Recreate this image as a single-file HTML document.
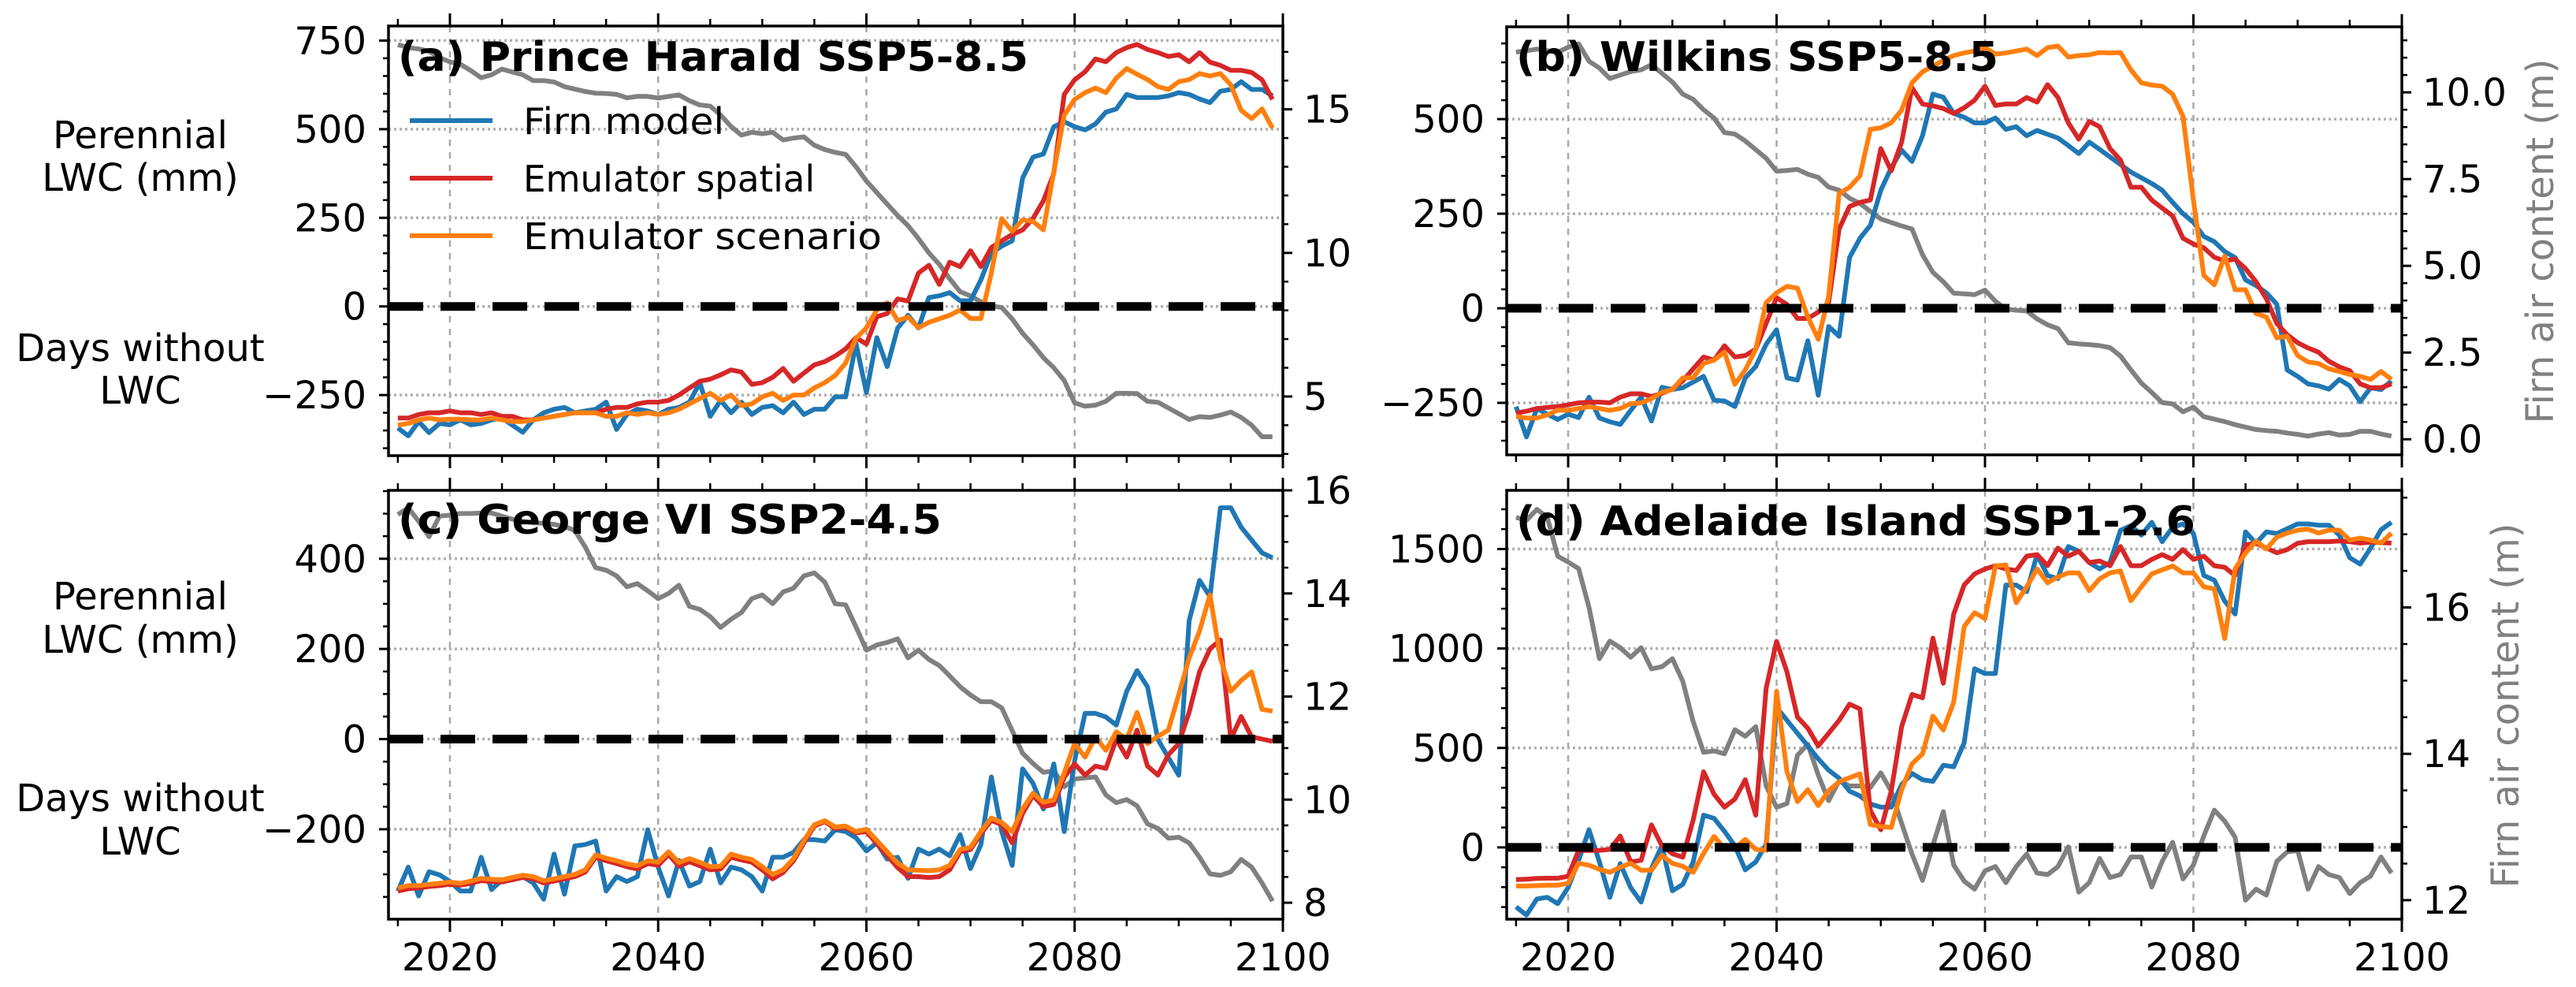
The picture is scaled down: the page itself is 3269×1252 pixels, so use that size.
<!DOCTYPE html>
<html><head><meta charset="utf-8">
<style>
html,body{margin:0;padding:0;background:#fff;}
svg{display:block;font-family:"DejaVu Sans","Liberation Sans",sans-serif;}
</style></head>
<body>
<svg id="fig" xmlns="http://www.w3.org/2000/svg" width="3269" height="1252" viewBox="0 0 3269 1252">
<rect x="0" y="0" width="3269" height="1252" fill="#fff"/>
</svg>
<script>
const startYear = 2015;
// Panel (a) Prince Harald SSP5-8.5
const aFirn = [-343,-365,-325,-356,-330,-334,-320,-334,-330,-320,-315,-335,-355,-320,-300,-290,-285,-300,-295,-290,-270,-347,-305,-290,-295,-305,-290,-285,-270,-215,-310,-265,-300,-270,-305,-285,-280,-300,-270,-305,-290,-290,-255,-255,-105,-243,-88,-170,-61,-25,-61,25,30,39,16,16,75,150,170,185,362,421,430,507,521,507,498,515,548,557,598,589,589,589,594,603,598,585,575,607,612,634,612,612,594];
const aSpatial = [-315,-315,-305,-300,-300,-295,-300,-300,-305,-300,-310,-310,-320,-320,-315,-310,-305,-300,-300,-300,-290,-285,-285,-275,-270,-270,-265,-250,-230,-211,-205,-193,-179,-185,-220,-215,-200,-175,-211,-188,-165,-156,-140,-120,-88,-106,-29,-20,21,15,94,116,62,125,112,157,112,166,185,203,216,248,298,375,598,639,662,698,690,716,730,739,725,716,705,710,690,716,689,680,666,666,660,639,584];
const aScenario = [-335,-330,-320,-315,-320,-318,-318,-320,-320,-315,-320,-325,-325,-320,-315,-310,-305,-300,-300,-300,-310,-310,-300,-305,-300,-305,-300,-290,-275,-260,-245,-265,-250,-280,-275,-255,-245,-265,-250,-250,-230,-215,-195,-160,-90,-60,-10,10,-40,-30,-60,-45,-35,-25,-10,-34,-34,94,248,212,244,240,216,380,539,584,603,616,603,644,671,655,640,620,612,634,640,657,650,657,625,553,530,557,503];
const aFAC = [17.25,17.15,17.1,17.02,16.8,16.65,16.57,16.35,16.1,16.2,16.4,16.3,16.2,16.0,16.0,15.95,15.79,15.7,15.62,15.56,15.55,15.52,15.4,15.45,15.45,15.39,15.45,15.5,15.3,15.15,15.11,14.8,14.4,14.1,14.2,14.15,14.2,13.93,14.0,14.04,13.75,13.6,13.5,13.43,13.0,12.5,12.1,11.7,11.3,10.95,10.5,10.0,9.6,9.1,8.65,8.5,8.3,8.15,8.1,7.7,7.2,6.8,6.35,6.0,5.56,4.78,4.66,4.7,4.83,5.11,5.11,5.1,4.83,4.8,4.6,4.4,4.2,4.3,4.27,4.35,4.46,4.27,4.0,3.6,3.6];
// Panel (b) Wilkins SSP5-8.5
const bFirn = [-260,-340,-265,-280,-294,-280,-289,-235,-290,-300,-307,-270,-235,-298,-209,-215,-210,-195,-180,-243,-245,-260,-184,-154,-95,-57,-184,-190,-86,-230,-48,-74,134,185,219,312,371,418,388,456,566,558,515,505,490,490,503,473,480,456,470,460,450,430,409,439,420,400,380,360,345,330,312,280,250,227,190,176,150,134,75,60,41,11,-163,-180,-200,-205,-214,-188,-205,-247,-210,-215,-192];
const bSpatial = [-277,-272,-265,-262,-260,-255,-250,-248,-248,-250,-235,-226,-226,-233,-225,-213,-192,-160,-129,-137,-99,-129,-125,-108,-40,28,10,-27,-27,-10,15,210,269,280,286,422,363,439,583,540,535,528,515,530,550,587,536,540,540,557,545,591,557,490,447,494,480,422,392,320,320,286,265,244,185,170,160,135,125,130,105,70,25,-40,-70,-91,-105,-116,-140,-155,-165,-200,-210,-210,-200];
const bScenario = [-286,-290,-290,-282,-269,-270,-265,-260,-265,-270,-265,-252,-250,-239,-222,-215,-184,-184,-146,-137,-116,-201,-163,-108,15,41,58,53,-23,-82,32,303,320,350,473,477,490,524,596,625,640,655,668,675,680,689,672,675,680,685,668,689,693,664,668,670,676,675,676,630,596,590,587,566,507,286,87,62,138,49,49,-14,-23,-78,-74,-125,-142,-146,-160,-167,-175,-180,-188,-167,-188];
const bFAC = [11.16,11.2,11.25,11.2,11.16,11.3,11.4,10.9,10.7,10.4,10.5,10.6,10.65,10.8,10.55,10.3,9.95,9.8,9.5,9.26,8.84,8.8,8.6,8.35,8.1,7.73,7.75,7.78,7.64,7.55,7.27,7.18,6.95,6.8,6.57,6.35,6.25,6.15,6.06,5.32,4.81,4.54,4.21,4.19,4.17,4.3,3.98,3.75,3.72,3.7,3.47,3.3,3.19,2.78,2.75,2.73,2.7,2.64,2.4,2.0,1.62,1.35,1.06,1.02,0.79,0.93,0.65,0.58,0.51,0.42,0.35,0.28,0.25,0.23,0.18,0.14,0.09,0.15,0.19,0.12,0.14,0.23,0.23,0.15,0.09];
// Panel (c) George VI SSP2-4.5
const cFirn = [-337,-284,-348,-294,-301,-316,-337,-337,-262,-334,-312,-312,-305,-319,-355,-255,-344,-237,-234,-226,-337,-305,-316,-305,-201,-284,-348,-269,-326,-316,-244,-319,-284,-290,-305,-337,-262,-262,-251,-223,-223,-226,-201,-205,-219,-248,-230,-266,-262,-309,-244,-255,-244,-259,-212,-287,-234,-84,-205,-280,-66,-98,-155,-55,-205,-48,57,57,49,31,106,152,116,-1,-41,-80,263,352,316,513,513,470,441,413,402];
const cSpatial = [-337,-332,-330,-327,-325,-322,-324,-320,-314,-316,-317,-312,-307,-310,-319,-315,-310,-305,-295,-262,-270,-276,-283,-288,-276,-280,-256,-282,-272,-281,-290,-288,-262,-268,-273,-290,-310,-296,-270,-230,-193,-183,-198,-196,-208,-205,-232,-258,-285,-305,-305,-307,-305,-290,-250,-245,-210,-180,-190,-230,-165,-125,-150,-145,-85,-55,-80,-60,-65,0,-40,20,-60,-80,-35,-10,60,150,200,220,0,50,5,0,-5];
const cScenario = [-330,-325,-325,-322,-320,-317,-320,-315,-309,-311,-312,-307,-302,-305,-314,-310,-305,-300,-290,-257,-264,-270,-277,-281,-270,-273,-250,-274,-265,-273,-283,-282,-255,-262,-267,-283,-300,-290,-265,-225,-190,-181,-195,-193,-205,-200,-225,-250,-275,-290,-291,-292,-290,-280,-245,-240,-205,-175,-185,-205,-155,-120,-140,-135,-75,-10,-40,5,-25,16,0,59,-10,6,20,99,180,240,320,180,106,130,149,66,62];
const cFAC = [15.53,15.66,15.4,15.1,15.5,15.52,15.55,15.55,15.56,15.56,15.5,15.44,15.4,15.37,15.36,15.34,15.3,15.22,14.9,14.5,14.45,14.34,14.13,14.19,14.05,13.9,14.0,14.16,13.75,13.69,13.55,13.34,13.5,13.63,13.9,13.97,13.8,14.03,14.1,14.34,14.4,14.22,13.8,13.78,13.35,12.9,13.0,13.05,13.12,12.75,12.9,12.72,12.6,12.4,12.19,12.03,11.9,11.9,11.78,11.34,10.9,10.7,10.53,10.56,10.25,10.4,10.42,10.44,10.09,9.94,10.0,9.88,9.53,9.44,9.25,9.27,9.16,8.88,8.56,8.53,8.6,8.84,8.69,8.38,8.03];
// Panel (d) Adelaide Island SSP1-2.6
const dFirn = [-299,-340,-259,-251,-283,-202,-65,89,-73,-251,-81,-202,-275,-105,8,-218,-186,-73,162,146,81,8,-113,-73,16,704,639,574,510,445,388,348,283,259,218,202,202,316,372,340,332,413,405,526,898,874,874,1319,1319,1286,1472,1367,1351,1513,1489,1432,1400,1432,1594,1618,1570,1634,1537,1610,1626,1578,1367,1343,1238,1173,1586,1529,1586,1578,1602,1626,1626,1620,1620,1570,1456,1424,1505,1597,1634];
const dSpatial = [-162,-160,-156,-155,-155,-145,-15,-15,-15,-10,57,-73,-65,113,8,-32,-49,138,380,267,202,243,340,162,801,1036,882,655,599,510,574,639,720,696,186,89,283,607,769,752,1052,825,1173,1319,1375,1400,1416,1400,1392,1464,1472,1416,1505,1464,1489,1432,1440,1416,1513,1416,1416,1448,1472,1448,1497,1448,1464,1416,1408,1367,1521,1529,1505,1481,1497,1529,1537,1537,1537,1540,1537,1530,1535,1532,1530];
const dScenario = [-194,-194,-192,-190,-190,-180,-80,-90,-110,-125,-100,-80,-115,-115,-40,-80,-95,-125,-30,55,-5,-5,40,-10,-15,785,380,230,290,210,285,330,350,370,115,105,100,290,420,470,660,590,730,1110,1180,1150,1415,1420,1230,1310,1400,1330,1360,1380,1380,1290,1350,1380,1390,1240,1310,1375,1395,1415,1380,1380,1310,1300,1050,1400,1480,1540,1500,1560,1580,1595,1600,1580,1595,1595,1545,1555,1545,1530,1580];
const dFAC = [17.23,17.19,17.34,17.23,16.7,16.62,16.53,16.0,15.3,15.54,15.45,15.32,15.45,15.16,15.19,15.3,14.99,14.44,14.02,14.04,14.0,14.33,14.24,14.37,13.56,13.27,13.32,13.98,14.13,13.71,13.36,13.63,13.56,13.56,13.54,13.74,13.49,13.05,12.63,12.27,12.75,13.21,12.48,12.26,12.15,12.4,12.46,12.24,12.46,12.63,12.37,12.35,12.46,12.73,12.11,12.24,12.57,12.31,12.35,12.59,12.59,12.18,12.53,12.79,12.29,12.48,12.88,13.23,13.08,12.86,12.0,12.15,12.07,12.53,12.66,12.68,12.15,12.46,12.35,12.31,12.09,12.24,12.33,12.59,12.37];
// axis tick values
const xTicks = [2020,2040,2060,2080,2100];
const aLeftTicks = [-250,0,250,500,750];
const aRightTicks = [5,10,15];
const bLeftTicks = [-250,0,250,500];
const bRightTicks = [0.0,2.5,5.0,7.5,10.0];
const cLeftTicks = [-200,0,200,400];
const cRightTicks = [8,10,12,14,16];
const dLeftTicks = [0,500,1000,1500];
const dRightTicks = [12,14,16];
const legendLabels = ["Firn model","Emulator spatial","Emulator scenario"];

const NS = "http://www.w3.org/2000/svg";
const fig = document.getElementById("fig");
const COLORS = {firn:"#1f77b4", spatial:"#d62728", scenario:"#ff7f0e", fac:"#808080"};
function mk(tag, attrs, parent){
  const e = document.createElementNS(NS, tag);
  for (const k in attrs) e.setAttribute(k, attrs[k]);
  (parent||fig).appendChild(e);
  return e;
}
const XMIN = 2014.1, XMAX = 2100;

function drawPanel(p){
  const g = mk("g", {});
  
  
  const L=p.L, R=p.R, T=p.T, B=p.B;
  const sx = v => L + (v - XMIN)/(XMAX - XMIN)*(R - L);
  const sy = v => B - (v - p.ylim[0])/(p.ylim[1]-p.ylim[0])*(B - T);
  const sy2 = v => B - (v - p.y2lim[0])/(p.y2lim[1]-p.y2lim[0])*(B - T);
  xTicks.forEach(t=>{
    if (t>=2100) return;
    const ln = mk("line",{x1:sx(t),x2:sx(t),y1:T,y2:B,stroke:"#a8a8a8","stroke-width":2.5,"stroke-dasharray":"8 8"},g);
    
    
  });
  p.leftTicks.forEach(t=>{
    const ln = mk("line",{x1:L,x2:R,y1:sy(t),y2:sy(t),stroke:"#b0b0b0","stroke-width":3.5,"stroke-dasharray":"3 4"},g);
    
    
  });
  const clipId = "clip"+p.id;
  const cp = mk("clipPath",{id:clipId},g);
  mk("rect",{x:L,y:T,width:R-L,height:B-T},cp);
  const series = [[p.fac,COLORS.fac,sy2,"firn-air-content-line"],[p.firn,COLORS.firn,sy,"firn-model-line"],[p.spatial,COLORS.spatial,sy,"emulator-spatial-line"],[p.scenario,COLORS.scenario,sy,"emulator-scenario-line"]];
  series.forEach(s=>{
    const pts = s[0].map((v,i)=>sx(startYear+i).toFixed(1)+","+s[2](v).toFixed(1)).join(" ");
    const pl = mk("polyline",{points:pts,fill:"none",stroke:s[1],"stroke-width":6,"stroke-linejoin":"round","clip-path":"url(#"+clipId+")"},g);
    
    
  });
  const zl = mk("line",{x1:L,x2:R,y1:sy(0),y2:sy(0),stroke:"#000","stroke-width":11,"stroke-dasharray":"44 22"},g);
  
  
  const fr = mk("rect",{x:L,y:T,width:R-L,height:B-T,fill:"none",stroke:"#000","stroke-width":3.5},g);
  
  
  for (let yr=2015; yr<=2100; yr+=5){
    const major = xTicks.includes(yr);
    const len = major?16:9;
    [[T,-1],[B,1]].forEach(([yy,d])=>{
      const tk = mk("line",{x1:sx(yr),x2:sx(yr),y1:yy,y2:yy+d*len,stroke:"#000","stroke-width":major?3:2.5},g);
      
      
    });
    if (major && p.xlabels){
      const tx = mk("text",{x:sx(yr),y:1231,"text-anchor":"middle","font-size":48,fill:"#000"},g);
      tx.textContent = yr;
      
      
    }
  }
  for (let v=Math.ceil(p.ylim[0]/p.leftMinor)*p.leftMinor; v<=p.ylim[1]; v+=p.leftMinor){
    const major = p.leftTicks.includes(v);
    const tk = mk("line",{x1:L,x2:L-(major?12:7),y1:sy(v),y2:sy(v),stroke:"#000","stroke-width":major?3:2.5},g);
    
    
  }
  p.leftTicks.forEach(v=>{
    const tx = mk("text",{x:L-28,y:sy(v)+17,"text-anchor":"end","font-size":48,fill:"#000"},g);
    tx.textContent = v<0 ? "\u2212"+Math.abs(v) : String(v);
    
    
  });
  for (let v=Math.ceil(p.y2lim[0]/p.rightMinor-1e-9)*p.rightMinor; v<=p.y2lim[1]+1e-9; v+=p.rightMinor){
    const vv = Math.round(v*100)/100;
    const major = p.rightTicks.some(t=>Math.abs(t-vv)<1e-6);
    const tk = mk("line",{x1:R,x2:R+(major?12:7),y1:sy2(vv),y2:sy2(vv),stroke:"#000","stroke-width":major?3:2.5},g);
    
    
  }
  p.rightTicks.forEach(v=>{
    const tx = mk("text",{x:R+26,y:sy2(v)+17,"text-anchor":"start","font-size":48,fill:"#000"},g);
    tx.textContent = p.rightDec ? v.toFixed(1) : String(v);
    
    
  });
  const tt = mk("text",{x:L+12,y:p.titleY,"font-size":52,"font-weight":"bold",fill:"#000",textLength:p.titleW,lengthAdjust:"spacingAndGlyphs"},g);
  tt.textContent = p.title;
  
  
  if (p.leftLabels){
    const lines = [["Perennial",p.lab[0]],["LWC (mm)",p.lab[1]],["Days without",p.lab[2]],["LWC",p.lab[3]]];
    lines.forEach(([s,yy])=>{
      const tx = mk("text",{x:178,y:yy,"text-anchor":"middle","font-size":48,fill:"#000"},g);
      tx.textContent = s;
      
      
    });
  }
  if (p.rightLabel){
    const tx = mk("text",{x:0,y:0,"text-anchor":"middle","font-size":48,fill:"#808080",transform:"translate("+p.rightLabel[0]+","+p.rightLabel[1]+") rotate(-90)"},g);
    tx.textContent = "Firn air content (m)";
    
    
  }
}

drawPanel({id:"a",L:493,R:1628,T:33,B:578,ylim:[-421,791],y2lim:[2.94,17.9],leftTicks:aLeftTicks,leftMinor:50,rightTicks:aRightTicks,rightMinor:1,rightDec:false,
  firn:aFirn,spatial:aSpatial,scenario:aScenario,fac:aFAC,title:"(a) Prince Harald SSP5-8.5",titleY:90,titleW:800,leftLabels:true,lab:[188,242,458,512]});
drawPanel({id:"b",L:1912,R:3048,T:34,B:577,ylim:[-387.5,744],y2lim:[-0.45,11.89],leftTicks:bLeftTicks,leftMinor:50,rightTicks:bRightTicks,rightMinor:0.5,rightDec:true,
  firn:bFirn,spatial:bSpatial,scenario:bScenario,fac:bFAC,title:"(b) Wilkins SSP5-8.5",titleY:90,titleW:612,rightLabel:[3240,306]});
drawPanel({id:"c",L:493,R:1628,T:622,B:1166,ylim:[-399.5,551.7],y2lim:[7.68,16.0],leftTicks:cLeftTicks,leftMinor:50,rightTicks:cRightTicks,rightMinor:0.5,rightDec:false,
  firn:cFirn,spatial:cSpatial,scenario:cScenario,fac:cFAC,title:"(c) George VI SSP2-4.5",titleY:677,titleW:690,xlabels:true,leftLabels:true,lab:[773,828,1029,1084]});
drawPanel({id:"d",L:1912,R:3048,T:622,B:1166,ylim:[-361,1795],y2lim:[11.74,17.6],leftTicks:dLeftTicks,leftMinor:100,rightTicks:dRightTicks,rightMinor:0.5,rightDec:false,
  firn:dFirn,spatial:dSpatial,scenario:dScenario,fac:dFAC,title:"(d) Adelaide Island SSP1-2.6",titleY:679,titleW:862,xlabels:true,rightLabel:[3196,895]});

const lg = mk("g",{});


const legColors = [COLORS.firn, COLORS.spatial, COLORS.scenario];
const legWidths = [255,370,455];
legendLabels.forEach((s,i)=>{
  const yy = 153 + i*73;
  const ln = mk("line",{x1:520,x2:625,y1:yy,y2:yy,stroke:legColors[i],"stroke-width":6},lg);
  
  
  const tx = mk("text",{x:664,y:yy+17,"font-size":46,fill:"#000",textLength:legWidths[i],lengthAdjust:"spacingAndGlyphs"},lg);
  tx.textContent = s;
  
  
});
</script>
</body></html>
